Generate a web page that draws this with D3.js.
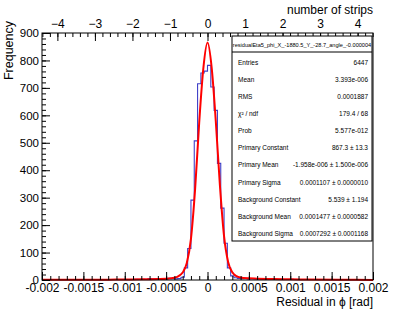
<!DOCTYPE html>
<html>
<head>
<meta charset="utf-8">
<script src="https://cdn.jsdelivr.net/npm/d3@7"></script>
<style>
  body { margin: 0; background: #fff; }
  svg { display: block; }
  text { font-family: 'Liberation Sans', Arial, sans-serif; fill: #000; }
</style>
</head>
<body>
<svg id="chart" width="415" height="312"></svg>
<script>
// histogram: 100 bins of 0.00004 rad from -0.002 to 0.002
const binLow = -0.002;
const binWidth = 0.00004;
const counts = [
  0, 0, 1, 0, 0, 1, 0, 0, 0, 1,
  0, 1, 0, 0, 1, 0, 1, 1, 0, 1,
  1, 1, 2, 1, 1, 2, 2, 1, 3, 2,
  3, 2, 5, 4, 4, 3, 5, 4, 6, 5,
  4, 5, 10, 44, 115, 291, 507, 715, 754, 761,
  782, 703, 618, 425, 262, 134, 44, 15, 8, 6,
  5, 6, 4, 5, 4, 5, 3, 4, 3, 4,
  3, 2, 3, 2, 2, 3, 2, 1, 2, 1,
  1, 2, 1, 1, 0, 1, 1, 0, 1, 0,
  1, 0, 0, 1, 0, 0, 1, 0, 0, 0
];

// fit curve
const fitX = [-20, -16, -12, -10, -8, -6, -5, -4, -3.5, -3, -2.5, -2, -1.5, -1, -0.5, 0,
  0.5, 1, 1.5, 2, 2.5, 3, 3.5, 4, 5, 6, 8, 10, 12, 16, 20].map(v => v * 1e-4);
const fitY = [0.5, 0.7, 1.2, 1.8, 2.6, 3.5, 4.5, 8, 14, 27, 62, 150, 330, 575, 772, 865,
  775, 580, 345, 160, 65, 28, 14, 9, 6, 5, 3.6, 2.5, 1.5, 0.7, 0.3];

const xTickLabels = ['-0.002', '-0.0015', '-0.001', '-0.0005', '0', '0.0005', '0.001', '0.0015', '0.002'];
const yTicks = [0, 100, 200, 300, 400, 500, 600, 700, 800, 900];
const stripTicks = [-4, -3, -2, -1, 0, 1, 2, 3, 4];

const statsTitle = 'residualEta5_phi_X_-1880.5_Y_-28.7_angle_-0.000004';
const statsRows = [
  ['Entries', '6447'],
  ['Mean', '3.393e-006'],
  ['RMS', '0.0001887'],
  ['\u03c7\u00b2 / ndf', '179.4 / 68'],
  ['Prob', '5.577e-012'],
  ['Primary Constant', '867.3 \u00b1 13.3'],
  ['Primary Mean', '-1.958e-006 \u00b1 1.500e-006'],
  ['Primary Sigma', '0.0001107 \u00b1 0.0000010'],
  ['Background Constant', '5.539 \u00b1 1.194'],
  ['Background Mean', '0.0001477 \u00b1 0.0000582'],
  ['Background Sigma', '0.0007292 \u00b1 0.0001168']
];

const W = 415, H = 312;
const M = { top: 33, right: 42, bottom: 32, left: 42 };
const iw = W - M.left - M.right;
const ih = H - M.top - M.bottom;

const svg = d3.select('#chart');
const g = svg.append('g').attr('transform', `translate(${M.left},${M.top})`);

const x = d3.scaleLinear().domain([-0.002, 0.002]).range([0, iw]);
const y = d3.scaleLinear().domain([0, 900]).range([ih, 0]);
const strips = d3.scaleLinear().domain([-4.41, 4.41]).range([0, iw]);

const clip = svg.append('defs').append('clipPath').attr('id', 'clip');
clip.append('rect').attr('width', iw).attr('height', ih);

// histogram step line
const steps = [];
counts.forEach((c, i) => {
  const x0 = binLow + i * binWidth;
  steps.push([x0, c], [x0 + binWidth, c]);
});
const stepLine = d3.line().x(d => x(d[0])).y(d => y(d[1]));
g.append('path')
  .datum(steps)
  .attr('clip-path', 'url(#clip)')
  .attr('fill', 'none')
  .attr('stroke', '#4040c8')
  .attr('stroke-width', 1.1)
  .attr('d', stepLine);

// fit
const fitLine = d3.line().x((d, i) => x(fitX[i])).y(d => y(d)).curve(d3.curveMonotoneX);
g.append('path')
  .datum(fitY)
  .attr('fill', 'none')
  .attr('stroke', '#ff0000')
  .attr('stroke-width', 2)
  .attr('d', fitLine);

// frame
g.append('rect')
  .attr('width', iw).attr('height', ih)
  .attr('fill', 'none').attr('stroke', '#000').attr('stroke-width', 1);

function styleAxis(sel) {
  sel.select('.domain').remove();
  sel.selectAll('.tick line').attr('stroke', '#000');
  sel.selectAll('.tick text').attr('font-size', '12px').attr('fill', '#000')
    .attr('font-family', "'Liberation Sans', Arial, sans-serif");
}

// bottom axis: minor then major (ticks pointing up into the frame)
g.append('g').attr('transform', `translate(0,${ih})`)
  .call(d3.axisBottom(x).tickValues(d3.range(-20, 21).map(v => v * 1e-4)).tickSize(-4).tickFormat(''))
  .call(styleAxis);
g.append('g').attr('transform', `translate(0,${ih})`)
  .call(d3.axisBottom(x).tickValues(d3.range(-4, 5).map(v => v * 5e-4)).tickSize(-8)
    .tickFormat((d, i) => xTickLabels[i]).tickPadding(3))
  .call(styleAxis);

// left axis
g.append('g')
  .call(d3.axisLeft(y).tickValues(d3.range(0, 901, 20)).tickSize(-4).tickFormat(''))
  .call(styleAxis);
g.append('g')
  .call(d3.axisLeft(y).tickValues(yTicks).tickSize(-8).tickPadding(3))
  .call(styleAxis)
  .call(s => s.selectAll('.tick text').attr('font-size', '11.5px'));

// top axis: number of strips
g.append('g')
  .call(d3.axisTop(strips).tickValues(d3.range(-22, 23).map(v => v * 0.2)).tickSize(-4).tickFormat(''))
  .call(styleAxis);
g.append('g')
  .call(d3.axisTop(strips).tickValues(stripTicks).tickSize(-8).tickPadding(5))
  .call(styleAxis);

// axis titles
svg.append('text')
  .attr('x', M.left + iw).attr('y', 306)
  .attr('text-anchor', 'end').attr('font-size', '12px')
  .text('Residual in \u03d5 [rad]');
svg.append('text')
  .attr('x', M.left + iw).attr('y', 14)
  .attr('text-anchor', 'end').attr('font-size', '12px')
  .text('number of strips');
svg.append('text')
  .attr('transform', 'translate(13,21) rotate(-90)')
  .attr('text-anchor', 'end').attr('font-size', '12.5px')
  .text('Frequency');

// stats box
const bx = 232, by = 36, bw = 140, bh = 205;
const box = svg.append('g');
box.append('rect').attr('x', bx).attr('y', by).attr('width', bw).attr('height', bh)
  .attr('fill', '#fff').attr('stroke', '#000').attr('stroke-width', 1);
box.append('line').attr('x1', bx).attr('x2', bx + bw).attr('y1', by + 16).attr('y2', by + 16)
  .attr('stroke', '#000');
box.append('text').attr('x', bx + bw / 2).attr('y', by + 10.5)
  .attr('text-anchor', 'middle').attr('font-size', '5.6px').text(statsTitle);
const rowY = d3.scaleLinear().domain([0, statsRows.length - 1]).range([by + 28.5, by + 200]);
statsRows.forEach((r, i) => {
  box.append('text').attr('x', bx + 6).attr('y', rowY(i)).attr('font-size', '6.5px').text(r[0]);
  box.append('text').attr('x', bx + bw - 4).attr('y', rowY(i)).attr('text-anchor', 'end')
    .attr('font-size', '6.5px').text(r[1]);
});
</script>
</body>
</html>
